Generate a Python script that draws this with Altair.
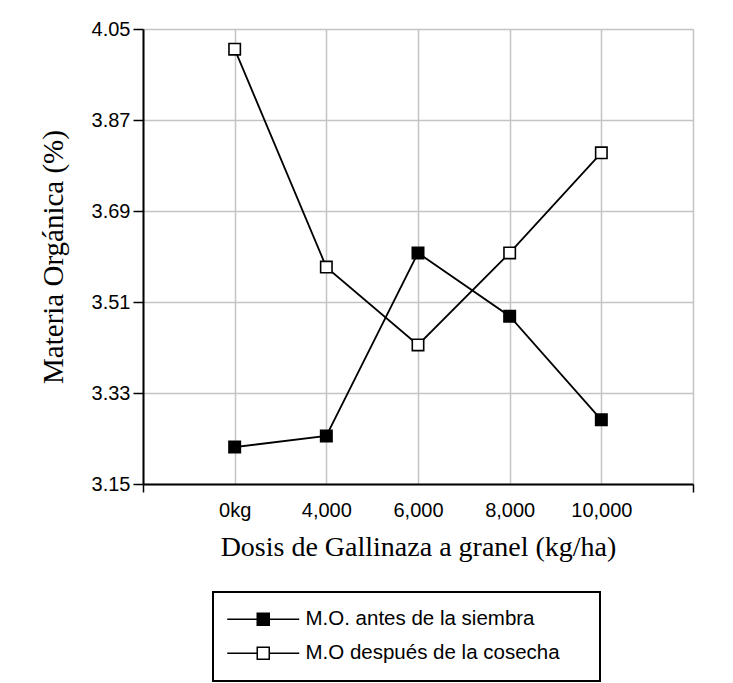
import altair as alt
import pandas as pd

dosis = ["0kg", "4,000", "6,000", "8,000", "10,000"]
antes = [3.223, 3.245, 3.607, 3.482, 3.277]
despues = [4.010, 3.579, 3.425, 3.607, 3.805]
series = ["M.O. antes de la siembra", "M.O después de la cosecha"]
fills = ["black", "white"]
y_ticks = [3.15, 3.33, 3.51, 3.69, 3.87, 4.05]

rows = []
for i, d in enumerate(dosis):
    rows.append({"pos": i + 1, "dosis": d, "serie": series[0], "valor": antes[i]})
    rows.append({"pos": i + 1, "dosis": d, "serie": series[1], "valor": despues[i]})
df = pd.DataFrame(rows)

label_array = "[" + ",".join(["''"] + [f"'{d}'" for d in dosis] + ["''"]) + "]"

SANS = "Liberation Sans"
SERIF = "Liberation Serif"

x_enc = alt.X(
    "pos:Q",
    scale=alt.Scale(domain=[0, len(dosis) + 1], nice=False, zero=False),
    axis=alt.Axis(
        values=list(range(0, len(dosis) + 2)),
        labelExpr=f"{label_array}[datum.value]",
        title="Dosis de Gallinaza a granel (kg/ha)",
        titleFont=SERIF, titleFontSize=28, titleFontWeight="normal", titleColor="black",
        titleY=71, titleBaseline="alphabetic",
        labelFont=SANS, labelFontSize=20, labelColor="black", labelPadding=8,
        tickSize=8, tickColor="black", tickWidth=1.5,
        tickOpacity={"condition": {"test": "datum.value == 0 || datum.value == 6", "value": 1}, "value": 0},
        domainColor="black", domainWidth=2,
        grid=True, gridColor="#c4c4c4", gridWidth=1.5,
        labelFlush=False, labelOverlap=False,
    ),
)

y_enc = alt.Y(
    "valor:Q",
    scale=alt.Scale(domain=[y_ticks[0], y_ticks[-1]], nice=False, zero=False),
    axis=alt.Axis(
        values=y_ticks, format=".2f",
        title="Materia Orgánica (%)",
        titleFont=SERIF, titleFontSize=29, titleFontWeight="normal", titleColor="black",
        titleX=-90, titleBaseline="middle",
        labelFont=SANS, labelFontSize=20, labelColor="black", labelPadding=3,
        tickSize=10, tickColor="black", tickWidth=1.5,
        domainColor="black", domainWidth=2,
        grid=True, gridColor="#c4c4c4", gridWidth=1.5,
        labelOverlap=False,
    ),
)

symbol_path = "M-6,0H-1M1,0H6M-1,-1H1V1H-1Z"

lines = alt.Chart(df).mark_line(color="black", strokeWidth=1.8).encode(
    x=x_enc, y=y_enc, detail="serie:N"
)

points = alt.Chart(df).mark_point(
    shape="square", size=130, stroke="black", strokeWidth=1.6, opacity=1, fillOpacity=1
).encode(
    x="pos:Q",
    y="valor:Q",
    fill=alt.Fill(
        "serie:N",
        scale=alt.Scale(domain=series, range=fills),
        legend=alt.Legend(
            orient="none", legendX=70, legendY=563, title=None,
            symbolType=symbol_path, symbolSize=144,
            symbolStrokeColor="black", symbolStrokeWidth=1.5,
            symbolOffset=23, labelOffset=32,
            labelFont=SANS, labelFontSize=20.5, labelColor="black", labelLimit=0,
            rowPadding=13, padding=17,
            labelExpr="datum.label + '\u00a0\u00a0\u00a0\u00a0\u200b'",
        ),
    ),
)

chart = (
    alt.layer(lines, points)
    .properties(
        width=550, height=455,
        autosize=alt.AutoSizeParams(type="none"),
        padding={"left": 135, "top": 21, "right": 30, "bottom": 200},
        background="white",
    )
    .configure_view(stroke=None)
    .configure_legend(strokeColor="black", strokeWidth=2, padding=17)
)

chart.save("out.html", embed_options={"renderer": "svg", "actions": False})
